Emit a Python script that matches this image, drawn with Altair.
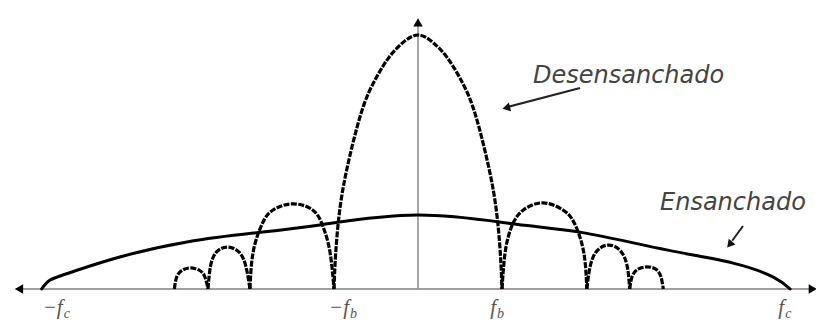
import altair as alt
import pandas as pd

# Frequency in units of f_b, amplitude relative to the despread main-lobe peak
# Despread (Desensanchado) spectrum: main lobe and side lobes
main_f = [-1.0, -0.98, -0.92, -0.80, -0.65, -0.50, -0.35, -0.18, 0.0,
          0.18, 0.35, 0.50, 0.65, 0.80, 0.92, 0.98, 1.0]
main_a = [0.0, 0.14, 0.34, 0.54, 0.72, 0.83, 0.91, 0.97, 1.0,
          0.97, 0.91, 0.83, 0.72, 0.54, 0.34, 0.14, 0.0]

l1_f = [-2.0, -1.96, -1.85, -1.73, -1.50, -1.25, -1.13, -1.05, -1.0]
l1_a = [0.0, 0.15, 0.26, 0.31, 0.335, 0.31, 0.245, 0.15, 0.0]
l2_f = [-2.5, -2.47, -2.40, -2.27, -2.13, -2.05, -2.0]
l2_a = [0.0, 0.09, 0.145, 0.165, 0.145, 0.09, 0.0]
l3_f = [-2.9, -2.87, -2.80, -2.71, -2.61, -2.54, -2.5]
l3_a = [0.0, 0.05, 0.075, 0.083, 0.075, 0.05, 0.0]

r1_f = [1.0, 1.04, 1.12, 1.25, 1.49, 1.73, 1.86, 1.97, 2.01]
r1_a = [0.0, 0.15, 0.25, 0.31, 0.339, 0.31, 0.26, 0.15, 0.0]
r2_f = [2.01, 2.05, 2.13, 2.27, 2.41, 2.49, 2.52]
r2_a = [0.0, 0.09, 0.15, 0.173, 0.15, 0.09, 0.0]
r3_f = [2.52, 2.55, 2.62, 2.73, 2.83, 2.89, 2.92]
r3_a = [0.0, 0.05, 0.078, 0.087, 0.078, 0.05, 0.0]

# Spread (Ensanchado) spectrum
spread_f = [-4.48, -4.38, -4.14, -3.55, -2.75, -1.96, -1.17, 0.0, 1.17, 1.96, 2.96, 3.75, 4.23, 4.43]
spread_a = [0.0, 0.035, 0.065, 0.126, 0.185, 0.22, 0.252, 0.291, 0.255, 0.222, 0.154, 0.102, 0.047, 0.0]

# Tick labels on the frequency axis
tick_pos = [-4.48, -1.0, 1.0, 4.43]
tick_main = ["\u2212f", "\u2212f", "f", "f"]
tick_sub = ["c", "b", "b", "c"]

rows = []
for name, fs, as_ in [("main", main_f, main_a), ("l1", l1_f, l1_a), ("l2", l2_f, l2_a),
                      ("l3", l3_f, l3_a), ("r1", r1_f, r1_a), ("r2", r2_f, r2_a),
                      ("r3", r3_f, r3_a)]:
    for f, a in zip(fs, as_):
        rows.append({"f": f, "amp": a, "lobe": name})
desp = pd.DataFrame(rows)
spread = pd.DataFrame({"f": spread_f, "amp": spread_a})

XS = alt.Scale(domain=[-4.881, 4.738], nice=False, zero=False)
YS = alt.Scale(domain=[-0.1339, 1.1063], nice=False, zero=False)


def X(field="f"):
    return alt.X(f"{field}:Q", scale=XS, axis=None)


def Y(field="amp"):
    return alt.Y(f"{field}:Q", scale=YS, axis=None)


AX = "#a0a0a0"

h_axis = alt.Chart(pd.DataFrame({"f": [-4.79], "f2": [4.72], "amp": [0.0]})).mark_rule(
    color=AX, strokeWidth=2).encode(x=X(), x2="f2:Q", y=Y())
v_axis = alt.Chart(pd.DataFrame({"f": [0.0], "amp": [0.0], "amp2": [1.06]})).mark_rule(
    color="#8a8a8a", strokeWidth=1.5).encode(x=X(), y=Y(), y2="amp2:Q")

arr_left = alt.Chart(pd.DataFrame({"f": [-4.75], "amp": [0.0]})).mark_point(
    shape="triangle-left", filled=True, color="black", size=90, opacity=1).encode(x=X(), y=Y())
arr_right = alt.Chart(pd.DataFrame({"f": [4.70], "amp": [0.0]})).mark_point(
    shape="triangle-right", filled=True, color="black", size=90, opacity=1).encode(x=X(), y=Y())
arr_up = alt.Chart(pd.DataFrame({"f": [0.0], "amp": [1.05]})).mark_point(
    shape="triangle-up", filled=True, color="black", size=90, opacity=1).encode(x=X(), y=Y())

spread_line = alt.Chart(spread).mark_line(
    color="black", strokeWidth=3, interpolate="natural", strokeCap="round").encode(x=X(), y=Y())

desp_line = alt.Chart(desp).mark_line(
    color="black", strokeWidth=3.2, interpolate="natural", strokeDash=[6, 1.4]
).encode(x=X(), y=Y(), detail="lobe:N")

# annotation arrows
ann1 = alt.Chart(pd.DataFrame({"f": [1.929], "amp": [0.791], "f2": [1.06], "amp2": [0.716]})).mark_rule(
    color="#222", strokeWidth=2).encode(x=X(), y=Y(), x2="f2:Q", y2="amp2:Q")
ann1h = alt.Chart(pd.DataFrame({"f": [1.05], "amp": [0.713]})).mark_point(
    shape="triangle-left", filled=True, color="#111", size=80, angle=346, opacity=1).encode(x=X(), y=Y())
ann2 = alt.Chart(pd.DataFrame({"f": [3.869], "amp": [0.248], "f2": [3.74], "amp2": [0.19]})).mark_rule(
    color="#222", strokeWidth=2).encode(x=X(), y=Y(), x2="f2:Q", y2="amp2:Q")
ann2h = alt.Chart(pd.DataFrame({"f": [3.71], "amp": [0.175]})).mark_point(
    shape="triangle-left", filled=True, color="#111", size=80, angle=310, opacity=1).encode(x=X(), y=Y())

txt1 = alt.Chart(pd.DataFrame({"f": [1.369], "amp": [0.811], "t": ["Desensanchado"]})).mark_text(
    align="left", baseline="alphabetic", font="DejaVu Sans", fontStyle="italic", fontSize=24,
    color="#444").encode(x=X(), y=Y(), text="t:N")
txt2 = alt.Chart(pd.DataFrame({"f": [2.881], "amp": [0.311], "t": ["Ensanchado"]})).mark_text(
    align="left", baseline="alphabetic", font="DejaVu Sans", fontStyle="italic", fontSize=24,
    color="#444").encode(x=X(), y=Y(), text="t:N")

label_dx = [21, 15, -6, -6]
labels = []
for pos, m, s, dx in zip(tick_pos, tick_main, tick_sub, label_dx):
    d = pd.DataFrame({"f": [pos], "amp": [0.0], "m": [m], "s": [s]})
    labels.append(alt.Chart(d).mark_text(
        align="right", baseline="alphabetic", font="Liberation Serif", fontStyle="italic",
        fontSize=21, color="#555", dx=dx, dy=25).encode(x=X(), y=Y(), text="m:N"))
    labels.append(alt.Chart(d).mark_text(
        align="left", baseline="alphabetic", font="Liberation Serif", fontStyle="italic",
        fontSize=14, color="#555", dx=dx + 1, dy=29).encode(x=X(), y=Y(), text="s:N"))

chart = alt.layer(
    h_axis, v_axis, arr_left, arr_right, arr_up, spread_line, desp_line,
    ann1, ann1h, ann2, ann2h, txt1, txt2, *labels
).properties(
    width=808, height=315, padding=0,
    autosize=alt.AutoSizeParams(type="none")
).configure(background="white").configure_view(stroke=None)

chart.save("out.html", embed_options={"renderer": "svg", "actions": False})
